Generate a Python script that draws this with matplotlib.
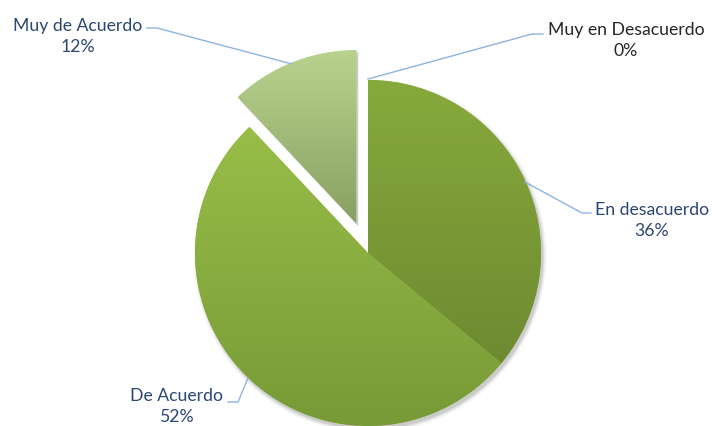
import numpy as np
import matplotlib
matplotlib.use('Agg')
from matplotlib import pyplot as plt
from matplotlib.colors import LinearSegmentedColormap

labels = ['Muy en Desacuerdo', 'En desacuerdo', 'De Acuerdo', 'Muy de Acuerdo']
values = [0, 36, 52, 12]
pct_text = ['0%', '36%', '52%', '12%']
explode = [0, 0, 0, 32]   # pie offsets are in data units (pixels here)
# gradient colours per slice (top, bottom)
grad = [('#8aac3e', '#6f8c34'),
        ('#88aa3c', '#6e8a31'),
        ('#98be48', '#789a37'),
        ('#b9d38f', '#88a061')]
text_colors = ['#262626', '#2a4674', '#2a4674', '#2a4674']

W, H = 712, 426
fig = plt.figure(figsize=(W / 100, H / 100), dpi=100)
ax = fig.add_axes([0, 0, 1, 1])
ax.axis('off')

cx, cy, r = 368, H - 253, 173

# soft shadow under the pie
for i, a in enumerate(np.linspace(0.06, 0.012, 6)):
    sh, _ = ax.pie(values, explode=explode, startangle=90, counterclock=False,
                   center=(cx + 2, cy - 3), radius=r + i * 0.8,
                   colors=['#000000'] * 4, wedgeprops=dict(alpha=a, linewidth=0))

wedges, _ = ax.pie(values, explode=explode, startangle=90, counterclock=False,
                   center=(cx, cy), radius=r,
                   colors=[g[0] for g in grad], wedgeprops=dict(linewidth=0))

ramp = np.linspace(0, 1, 256).reshape(-1, 1)
for w, g in zip(wedges, grad):
    if w.theta1 == w.theta2:
        continue
    bb = w.get_path().get_extents()
    cmap = LinearSegmentedColormap.from_list('g', list(g))
    im = ax.imshow(ramp, cmap=cmap, extent=[bb.x0, bb.x1, bb.y0, bb.y1],
                   origin='upper', aspect='auto', zorder=2, interpolation='bilinear')
    im.set_clip_path(w)

# labels and leader lines (pixel positions from the top)
txt_pos = [(626, 30), (652, 210), (177, 396), (78, 26)]
leaders = [[(368, 79), (532, 34), (543, 34)],
           [(525, 182), (582, 213), (591, 213)],
           [(248, 378), (238, 402), (228, 402)],
           [(292, 64), (157, 28), (147, 28)]]

for lab, pct, (tx, ty), pts, tc in zip(labels, pct_text, txt_pos, leaders, text_colors):
    xs = [p[0] for p in pts]
    ys = [H - p[1] for p in pts]
    ax.plot(xs, ys, color='#8db4e2', lw=1, zorder=3)
    ax.text(tx, H - ty, lab, ha='center', va='center', fontsize=12.7,
            color=tc, family='Lato', zorder=4)
    ax.text(tx, H - ty - 21, pct, ha='center', va='center', fontsize=12.7,
            color=tc, family='Lato', zorder=4)

ax.set_xlim(0, W)
ax.set_ylim(0, H)
ax.set_aspect('equal')

fig.savefig('out.png', dpi=100)
